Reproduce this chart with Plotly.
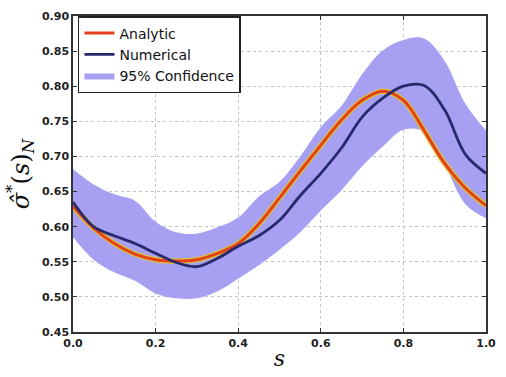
import plotly.graph_objects as go

s = [0.00, 0.05, 0.10, 0.15, 0.20, 0.25, 0.30, 0.35, 0.40, 0.45, 0.50,
     0.55, 0.60, 0.65, 0.70, 0.75, 0.80, 0.85, 0.90, 0.95, 1.00]

analytic = [0.629, 0.598, 0.576, 0.561, 0.553, 0.551, 0.553, 0.562, 0.576, 0.604, 0.641,
            0.679, 0.716, 0.752, 0.780, 0.793, 0.780, 0.737, 0.690, 0.655, 0.630]

numerical = [0.635, 0.600, 0.587, 0.576, 0.562, 0.549, 0.543, 0.555, 0.572, 0.587, 0.609,
             0.644, 0.676, 0.712, 0.756, 0.783, 0.800, 0.801, 0.766, 0.703, 0.676]

upper = [0.682, 0.660, 0.646, 0.637, 0.607, 0.592, 0.590, 0.599, 0.613, 0.643, 0.664,
         0.700, 0.742, 0.772, 0.817, 0.851, 0.866, 0.868, 0.836, 0.775, 0.737]

lower = [0.585, 0.553, 0.535, 0.523, 0.505, 0.498, 0.498, 0.508, 0.526, 0.545, 0.567,
         0.592, 0.623, 0.652, 0.686, 0.714, 0.738, 0.735, 0.688, 0.632, 0.612]

y_ticks = [0.45, 0.50, 0.55, 0.60, 0.65, 0.70, 0.75, 0.80, 0.85, 0.90]
x_ticks = [0.0, 0.2, 0.4, 0.6, 0.8, 1.0]

fill_col = "#a79ff2"

fig = go.Figure()
fig.add_trace(go.Scatter(x=s, y=lower, mode="lines", line=dict(width=0, shape="spline"),
                         showlegend=False, hoverinfo="skip"))
fig.add_trace(go.Scatter(x=s, y=upper, mode="lines", line=dict(width=0, shape="spline"),
                         fill="tonexty", fillcolor=fill_col, name="95% Confidence",
                         legendrank=3))
fig.add_trace(go.Scatter(x=s, y=analytic, mode="lines",
                         line=dict(color="#d9c43a", width=5.5, shape="spline"),
                         showlegend=False, hoverinfo="skip"))
fig.add_trace(go.Scatter(x=s, y=analytic, mode="lines",
                         line=dict(color="#e4401c", width=3, shape="spline"),
                         name="Analytic", legendrank=1))
fig.add_trace(go.Scatter(x=s, y=numerical, mode="lines",
                         line=dict(color="#262a6b", width=2.8, shape="spline"),
                         name="Numerical", legendrank=2))

axis_common = dict(
    showline=True, linecolor="#333", linewidth=1.5, mirror="ticks",
    ticks="inside", ticklen=4, tickcolor="#333",
    showgrid=True, gridcolor="#c4c4c4", griddash="dot", gridwidth=1,
    zeroline=False,
    tickfont=dict(family="DejaVu Sans", size=11, color="#222", weight="bold"),
)

fig.update_xaxes(range=[0, 1], tickvals=x_ticks, ticktext=[f"{v:.1f}" for v in x_ticks],
                 title=dict(text="<i>s</i>", font=dict(family="DejaVu Serif", size=22, color="#111"),
                            standoff=2),
                 **axis_common)
fig.update_yaxes(range=[0.45, 0.90], tickvals=y_ticks, ticktext=[f"{v:.2f}" for v in y_ticks],
                 title=dict(text="<i>σ̂</i><sup>*</sup>(<i>s</i>)<sub><i>N</i></sub>",
                            font=dict(family="DejaVu Serif", size=24, color="#111"), standoff=6),
                 **axis_common)

fig.update_layout(
    width=506, height=377,
    margin=dict(l=73, r=10, t=11, b=37),
    plot_bgcolor="white", paper_bgcolor="white",
    legend=dict(x=0.012, y=1.0, xanchor="left", yanchor="top",
                bgcolor="white", bordercolor="#222", borderwidth=1.5,
                font=dict(family="DejaVu Sans", size=14, color="#111"),
                traceorder="normal", tracegroupgap=0, itemwidth=30),
)

fig.write_html("out.html")
